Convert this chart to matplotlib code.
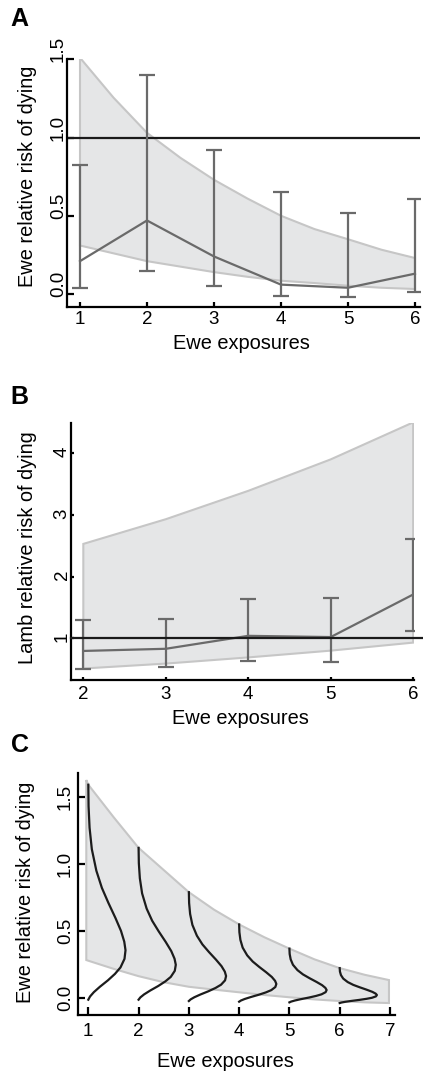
import numpy as np
import matplotlib
matplotlib.use("Agg")
import matplotlib.pyplot as plt

plt.rcParams['font.family'] = ['Liberation Sans', 'DejaVu Sans']
plt.rcParams['font.size'] = 13.5

# ---------------- Panel A data ----------------
a_x = [1, 2, 3, 4, 5, 6]
a_mean = [0.21, 0.47, 0.24, 0.06, 0.04, 0.13]
a_lo = [0.04, 0.15, 0.05, -0.015, -0.017, 0.01]
a_hi = [0.825, 1.40, 0.92, 0.65, 0.52, 0.61]
a_band_x = [1, 1.5, 2, 2.5, 3, 3.5, 4, 4.5, 5, 5.5, 6]
a_band_hi = [1.51, 1.255, 1.03, 0.87, 0.73, 0.61, 0.50, 0.415, 0.35, 0.283, 0.23]
a_band_lo = [0.31, 0.26, 0.21, 0.175, 0.14, 0.11, 0.085, 0.07, 0.053, 0.04, 0.032]
a_yticks = [0.0, 0.5, 1.0, 1.5]
a_yticklabels = ["0.0", "0.5", "1.0", "1.5"]

# ---------------- Panel B data ----------------
b_x = [2, 3, 4, 5, 6]
b_mean = [0.795, 0.83, 1.04, 1.02, 1.71]
b_lo = [0.50, 0.53, 0.64, 0.61, 1.12]
b_hi = [1.29, 1.31, 1.63, 1.65, 2.61]
b_band_x = [2, 3, 4, 5, 6]
b_band_hi = [2.53, 2.93, 3.39, 3.90, 4.50]
b_band_lo = [0.51, 0.59, 0.69, 0.80, 0.93]
b_yticks = [1, 2, 3, 4]
b_yticklabels = ["1", "2", "3", "4"]

# ---------------- Panel C data ----------------
c_x = [1, 2, 3, 4, 5, 6]
c_top = [1.59, 1.12, 0.79, 0.55, 0.37, 0.225]
c_bottom = [-0.01, -0.01, -0.02, -0.025, -0.03, -0.035]
# density profile: fraction of height (bottom=0, top=1) and sideways offset
c_prof_frac = [1.00, 0.90, 0.80, 0.70, 0.60, 0.52, 0.45, 0.38, 0.32, 0.27, 0.23,
               0.19, 0.15, 0.12, 0.09, 0.06, 0.035, 0.015, 0.0]
c_prof_off = [0.000, 0.005, 0.025, 0.070, 0.160, 0.270, 0.400, 0.540, 0.650, 0.715, 0.740,
              0.720, 0.640, 0.530, 0.390, 0.230, 0.110, 0.035, 0.000]
c_band_x = [0.96, 1, 1.5, 2, 2.5, 3, 3.5, 4, 4.5, 5, 5.5, 6, 6.5, 6.98]
c_band_hi = [1.625, 1.59, 1.35, 1.12, 0.955, 0.79, 0.66, 0.55, 0.455, 0.37, 0.29, 0.225, 0.175, 0.136]
c_band_lo = [0.285, 0.28, 0.22, 0.165, 0.12, 0.086, 0.065, 0.045, 0.025, 0.008, -0.008, -0.02, -0.03, -0.035]
c_yticks = [0.0, 0.5, 1.0, 1.5]
c_yticklabels = ["0.0", "0.5", "1.0", "1.5"]
c_xticks = [1, 2, 3, 4, 5, 6, 7]

W, H = 423, 1077
fig = plt.figure(figsize=(W / 100, H / 100), dpi=100)

FILL = '#e5e6e7'
EDGE = '#c6c6c6'
GREY = '#6a6a6a'
LABEL_FS = 14.4
TICK_FS = 13.5


def px_axes(left, top, right, bottom):
    return fig.add_axes([left / W, (H - bottom) / H, (right - left) / W, (bottom - top) / H])


def style(ax, xpad, xtl, ytl):
    for s in ['top', 'right']:
        ax.spines[s].set_visible(False)
    for s in ['left', 'bottom']:
        ax.spines[s].set_linewidth(1.6)
        ax.spines[s].set_color('black')
    ax.tick_params(axis='x', direction='in', length=xtl, width=1.6, pad=xpad, labelsize=TICK_FS)
    ax.tick_params(axis='y', direction='in', length=ytl, width=1.6, labelleft=False)


def ylabels(ax, ticks, labels, dx, dy):
    for v, t in zip(ticks, labels):
        ax.annotate(t, xy=(0, v), xycoords=('axes fraction', 'data'),
                    xytext=(dx, dy), textcoords='offset pixels',
                    rotation=90, ha='right', va='center', fontsize=TICK_FS,
                    annotation_clip=False)


def band(ax, xs, hi, lo):
    px = list(xs) + list(xs)[::-1]
    py = list(hi) + list(lo)[::-1]
    ax.fill(px, py, facecolor=FILL, edgecolor=EDGE, linewidth=1.5, zorder=1)


# ---------------- Panel A ----------------
axA = px_axes(67, 59.3, 420, 307)
band(axA, a_band_x, a_band_hi, a_band_lo)
axA.axhline(1.0, color='#1a1a1a', lw=1.6, zorder=2)
a_err = [np.array(a_mean) - np.array(a_lo), np.array(a_hi) - np.array(a_mean)]
axA.errorbar(a_x, a_mean, yerr=a_err, color=GREY, lw=1.6, elinewidth=1.6,
             capsize=5.5, capthick=1.6, zorder=3)
axA.set_xlim(0.806, 6.075)
axA.set_ylim(-0.083, 1.5)
axA.set_xticks(a_x)
axA.set_yticks(a_yticks)
style(axA, 3.1, 3.5, 5)
ylabels(axA, a_yticks, a_yticklabels, 0, 10)
axA.set_xlabel('Ewe exposures', fontsize=LABEL_FS)
axA.set_ylabel('Ewe relative risk of dying', fontsize=LABEL_FS)
axA.xaxis.set_label_coords(0.4943, -0.111)
axA.yaxis.set_label_coords(-0.0864, 0.529)

# ---------------- Panel B ----------------
axB = px_axes(70.7, 423.3, 414, 680)
band(axB, b_band_x, b_band_hi, b_band_lo)
b_err = [np.array(b_mean) - np.array(b_lo), np.array(b_hi) - np.array(b_mean)]
axB.errorbar(b_x, b_mean, yerr=b_err, color=GREY, lw=1.6, elinewidth=1.6,
             capsize=5.5, capthick=1.6, zorder=3)
axB.set_xlim(1.847, 6.01)
axB.set_ylim(0.324, 4.485)
axB.plot([1.847, 6.12], [1, 1], color='#1a1a1a', lw=1.6, zorder=4, clip_on=False)
axB.set_xticks(b_x)
axB.set_yticks(b_yticks)
style(axB, 4.5, 2, 2)
ylabels(axB, b_yticks, b_yticklabels, 0, 1.5)
axB.set_xlabel('Ewe exposures', fontsize=LABEL_FS)
axB.set_ylabel('Lamb relative risk of dying', fontsize=LABEL_FS)
axB.xaxis.set_label_coords(0.493, -0.113)
axB.yaxis.set_label_coords(-0.0996, 0.514)

# ---------------- Panel C ----------------
axC = px_axes(77.5, 773.3, 395, 1015)
band(axC, c_band_x, c_band_hi, c_band_lo)
frac = np.array(c_prof_frac)
off = np.array(c_prof_off)
for xk, top, bot in zip(c_x, c_top, c_bottom):
    axC.plot(xk + off, bot + frac * (top - bot), color='#1c1c1c', lw=1.6, zorder=3)
axC.set_xlim(0.785, 7.1)
axC.set_ylim(-0.124, 1.675)
axC.set_xticks(c_xticks)
axC.set_yticks(c_yticks)
style(axC, 5.8, 6, 5)
ylabels(axC, c_yticks, c_yticklabels, -3.5, 0)
axC.set_xlabel('Ewe exposures', fontsize=LABEL_FS)
axC.set_ylabel('Ewe relative risk of dying', fontsize=LABEL_FS)
axC.xaxis.set_label_coords(0.4646, -0.155)
axC.yaxis.set_label_coords(-0.1354, 0.507)

# panel letters
for letter, yc in [('A', 19), ('B', 397.5), ('C', 745.5)]:
    fig.text(19.5 / W, 1 - yc / H, letter, fontsize=18, fontweight='bold',
             ha='center', va='center')

fig.savefig('out.png', dpi=100)
